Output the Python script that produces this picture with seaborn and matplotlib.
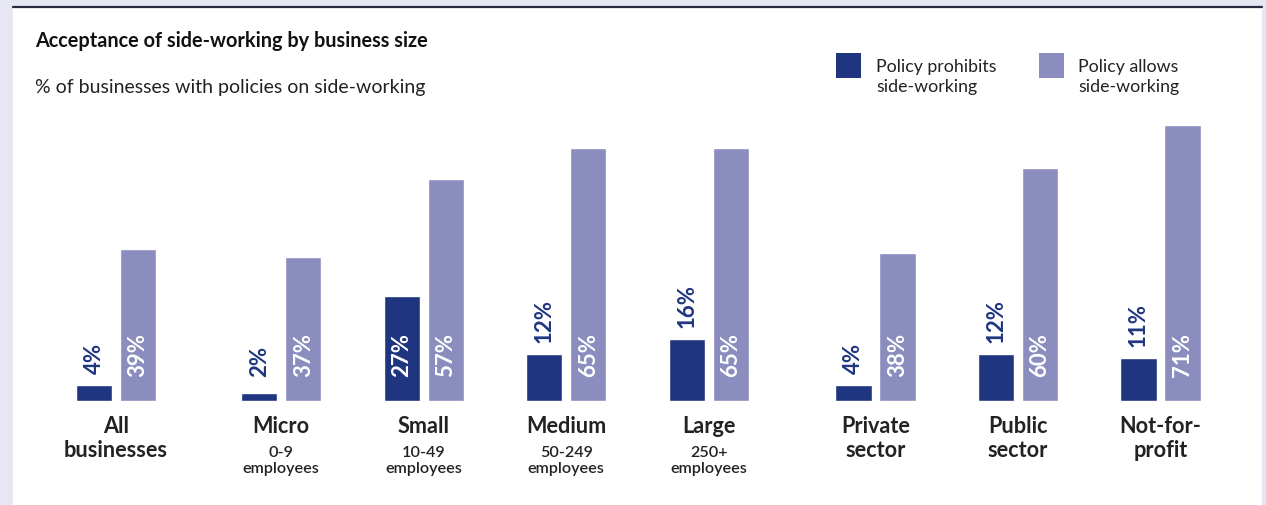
import matplotlib
matplotlib.use("Agg")
import matplotlib.pyplot as plt
import seaborn as sns
import pandas as pd
from matplotlib.patches import Rectangle
from matplotlib.lines import Line2D

# ---------------- data ----------------
categories = ["All\nbusinesses", "Micro", "Small", "Medium", "Large",
              "Private\nsector", "Public\nsector", "Not-for-\nprofit"]
sublabels = ["", "0-9\nemployees", "10-49\nemployees", "50-249\nemployees",
             "250+\nemployees", "", "", ""]
series = ["Policy prohibits\nside-working", "Policy allows\nside-working"]
prohibits = [4, 2, 27, 12, 16, 4, 12, 11]
allows = [39, 37, 57, 65, 65, 38, 60, 71]
title = "Acceptance of side-working by business size"
subtitle = "% of businesses with policies on side-working"

# ---------------- layout / style ----------------
group_pos = [0, 1.16, 2.16, 3.16, 4.16, 5.33, 6.33, 7.33]
DARK = "#1f3580"
LIGHT = "#8b8dbf"
BG = "#e7e7f3"
TXT = "#222222"
W, H = 1266, 506
X0, UX = 116, 142.5       # px of first group, px per unit
Y0, UY = 402, 3.887       # baseline px, px per %

sns.set_theme(style="white")
plt.rcParams["font.family"] = ["Lato", "DejaVu Sans"]

fig = plt.figure(figsize=(W / 100, H / 100), dpi=100, facecolor=BG)
# white panel + top rule
fig.patches.append(Rectangle((13 / W, 0), (1262 - 13) / W, (H - 8) / H,
                             transform=fig.transFigure, facecolor="white",
                             edgecolor="none", zorder=-10))
fig.lines.append(Line2D([13 / W, 1262 / W], [(H - 7.5) / H] * 2,
                        transform=fig.transFigure, color="#2b2940", lw=1.6,
                        zorder=-9))

ax = fig.add_axes([0, 0, 1, 1])
ax.set_facecolor("none")

rows = []
for i, c in enumerate(categories):
    rows.append({"pos": group_pos[i], "value": prohibits[i], "series": series[0]})
    rows.append({"pos": group_pos[i], "value": allows[i], "series": series[1]})
df = pd.DataFrame(rows)

sns.barplot(data=df, x="pos", y="value", hue="series", hue_order=series,
            native_scale=True, width=0.6175, gap=0.18,
            palette=[DARK, LIGHT], saturation=1, legend=False, ax=ax,
            errorbar=None)

ax.set_xlim(-X0 / UX, (W - X0) / UX)
ax.set_ylim(-(H - Y0) / UY, Y0 / UY)
ax.set_axis_off()

# value labels
VFS = 16
inside_y = 25 / UY
gap_y = 12 / UY
for k, cont in enumerate(ax.containers):
    bars = sorted(cont.patches, key=lambda p: p.get_x())
    vals = prohibits if k == 0 else allows
    for b, v in zip(bars, vals):
        cx = b.get_x() + b.get_width() / 2
        if k == 1 or v >= 20:
            ax.text(cx, inside_y, f"{v}%", rotation=90, ha="center", va="bottom",
                    color="white", fontsize=VFS, fontweight=700)
        else:
            ax.text(cx, max(inside_y, v + gap_y), f"{v}%", rotation=90,
                    ha="center", va="bottom", color=DARK, fontsize=VFS,
                    fontweight=700)


def lines_at(x, base_px, step_px, text, **kw):
    for j, line in enumerate(text.split("\n")):
        ax.text(x, (Y0 - (base_px + j * step_px)) / UY, line, ha="center",
                va="baseline", **kw)


# category labels
for i, c in enumerate(categories):
    lines_at(group_pos[i], 433, 24, c, fontsize=15.6, fontweight=700,
             color=TXT)
    if sublabels[i]:
        lines_at(group_pos[i], 457, 16, sublabels[i], fontsize=11.6,
                 fontweight=600, color=TXT)

# titles
fig.text(35 / W, 1 - 47 / H, title, fontsize=14.3, fontweight=700,
         color="#111111", va="baseline")
fig.text(35 / W, 1 - 93 / H, subtitle, fontsize=14, color=TXT,
         va="baseline")

# legend (manual)
for (sx, tx), name, col in zip([(836, 876), (1039, 1078)], series, [DARK, LIGHT]):
    fig.patches.append(Rectangle((sx / W, 1 - 79 / H), 25 / W, 25 / H,
                                 transform=fig.transFigure, facecolor=col,
                                 edgecolor="none"))
    for j, line in enumerate(name.split("\n")):
        fig.text(tx / W, 1 - (72 + 20 * j) / H, line, fontsize=12.8,
                 color=TXT, va="baseline")

fig.savefig("out.png", dpi=100, facecolor=BG)
